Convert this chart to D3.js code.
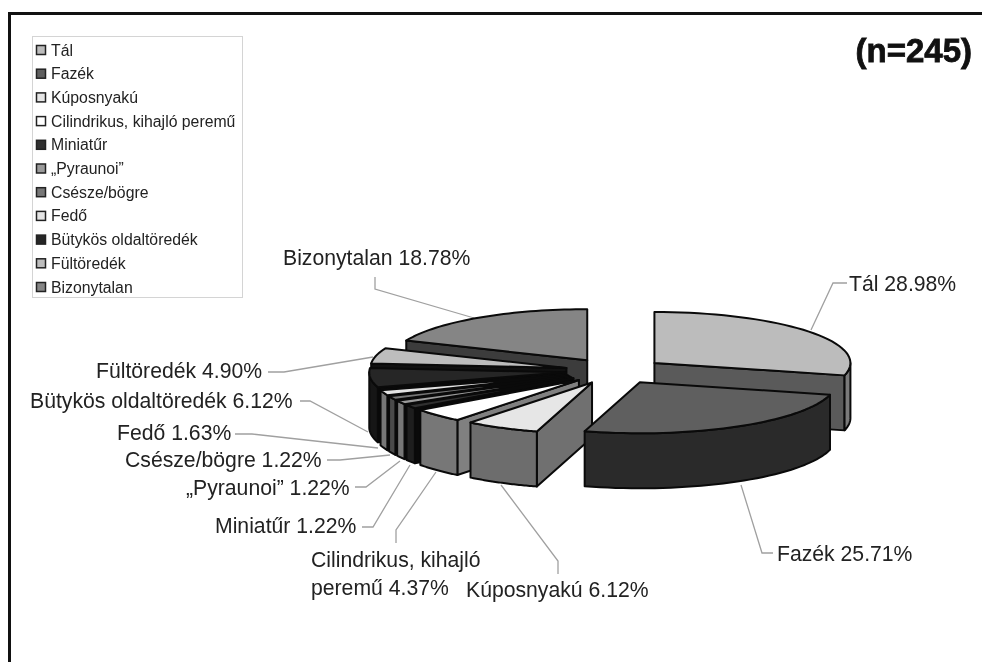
<!DOCTYPE html>
<html>
<head>
<meta charset="utf-8">
<script src="https://cdn.jsdelivr.net/npm/d3@7"></script>
<style>
  html, body { margin: 0; padding: 0; background: #fff; }
  svg { display: block; font-family: "Liberation Sans", Arial, sans-serif; filter: blur(0.5px); }
</style>
</head>
<body>
<svg width="982" height="662"></svg>
<script>
/* Data */
const categories = ['Tál', 'Fazék', 'Kúposnyakú', 'Cilindrikus, kihajló peremű', 'Miniatűr', '„Pyraunoi”',
    'Csésze/bögre', 'Fedő', 'Bütykös oldaltöredék', 'Fültöredék', 'Bizonytalan'];
const percents = [28.98, 25.71, 6.12, 4.37, 1.22, 1.22, 1.22, 1.63, 6.12, 4.90, 18.78];
const sampleLabel = '(n=245)';

/* Greys, slice by slice */
const topGreys = ['#bcbcbc', '#5f5f5f', '#e6e6e6', '#ffffff', '#303030', '#9a9a9a', '#777777', '#e4e4e4', '#262626', '#bdbdbd', '#858585'];
const rimGreys = ['#7a7a7a', '#2a2a2a', '#6d6d6d', '#777777', '#1e1e1e', '#777777', '#4a4a4a', '#777777', '#161616', '#1a1a1a', '#333333'];
const cutGreys = ['#5a5a5a', '#2a2a2a', '#707070', '#808080', '#0a0a0a', '#0a0a0a', '#0a0a0a', '#0a0a0a', '#0a0a0a', '#111111', '#3c3c3c'];

/* Back to front, by index into categories */
const drawOrder = [10, 0, 9, 8, 7, 6, 5, 4, 3, 2, 1];

/* Label placement: text start, leader line */
const labelAt = [[849, 291], [777, 561], [466, 597], [311, 567], [215, 533], [186, 495], [125, 467], [117, 440], [30, 408], [96, 378], [283, 265]];
const leaders = [
    [[847, 283], [833, 283], [811, 330]],
    [[773, 553], [762, 553], [741, 485]],
    [[558, 574], [558, 561], [501, 485]],
    [[396, 543], [396, 530], [436, 472]],
    [[362, 527], [373, 527], [410, 465]],
    [[355, 487], [366, 487], [400, 461]],
    [[327, 460], [340, 460], [390, 455]],
    [[235, 434], [252, 434], [378, 448]],
    [[300, 401], [310, 401], [368, 432]],
    [[268, 372], [284, 372], [373, 357]],
    [[375, 277], [375, 289], [474, 318]]
];

const svg = d3.select('svg');

/* Frame */
svg.append('path')
    .attr('d', 'M9.5,662V13.5H982')
    .attr('fill', 'none')
    .attr('stroke', '#111')
    .attr('stroke-width', 3);

svg.append('text')
    .attr('x', 972)
    .attr('y', 62)
    .attr('text-anchor', 'end')
    .attr('font-size', 33)
    .attr('font-weight', 700)
    .attr('fill', '#111')
    .attr('stroke', '#111')
    .attr('stroke-width', 0.8)
    .text(sampleLabel);

/* Legend */
const legendY = d3.scalePoint().domain(categories).range([50, 287]);
const legendFill = d3.scaleOrdinal(categories, topGreys);

svg.append('rect')
    .attr('x', 32.5)
    .attr('y', 36.5)
    .attr('width', 210)
    .attr('height', 261)
    .attr('fill', '#fff')
    .attr('stroke', '#d4d4d4');

const legend = svg.selectAll('.legend')
    .data(categories)
    .join('g')
    .attr('class', 'legend')
    .attr('transform', d => `translate(36,${legendY(d)})`);

legend.append('rect')
    .attr('x', 0.5)
    .attr('y', -4.5)
    .attr('width', 9)
    .attr('height', 9)
    .attr('fill', d => legendFill(d))
    .attr('stroke', '#222')
    .attr('stroke-width', 1.5);

legend.append('text')
    .attr('x', 15)
    .attr('y', 5.5)
    .attr('font-size', 15.8)
    .attr('fill', '#222')
    .text(d => d);

/* Leader lines go under the pie */
const leaderLine = d3.line();
svg.selectAll('.leader')
    .data(leaders)
    .join('path')
    .attr('class', 'leader')
    .attr('d', leaderLine)
    .attr('fill', 'none')
    .attr('stroke', '#a0a0a0')
    .attr('stroke-width', 1.3);

/* Labels */
const labels = svg.selectAll('.label')
    .data(categories)
    .join('text')
    .attr('class', 'label')
    .attr('x', (d, i) => labelAt[i][0])
    .attr('y', (d, i) => labelAt[i][1])
    .attr('font-size', 21.2)
    .attr('fill', '#222');

labels.each(function (d, i) {
    const value = d3.format('.2f')(percents[i]) + '%';
    const text = d3.select(this);
    if (d.startsWith('Cilindrikus')) {
        text.append('tspan').text('Cilindrikus, kihajló');
        text.append('tspan').attr('x', labelAt[i][0]).attr('dy', 28).text('peremű ' + value);
    } else {
        text.text(d + ' ' + value);
    }
});

/* Exploded 3D pie */
const cx = 615, cy = 371, rx = 196, ry = 51, depth = 55, explode = 50;

const pie = d3.pie().sort(null).value(d => d);
const slices = pie(percents).map((s, i) => {
    const mid = (s.startAngle + s.endAngle) / 2;
    return {
        ...s,
        mid,
        i,
        ax: cx + explode * Math.sin(mid),
        ay: cy - explode * Math.cos(mid) * ry / rx
    };
});

const rimPoint = (s, a, drop = 0) => [s.ax + rx * Math.sin(a), s.ay - ry * Math.cos(a) + drop];
const arcAngles = (a0, a1) => d3.range(0, 41).map(k => a0 + (a1 - a0) * k / 40);
const shape = d3.line().curve(d3.curveLinear);

const faceStyle = sel => sel
    .attr('stroke', '#0a0a0a')
    .attr('stroke-width', 2)
    .attr('stroke-linejoin', 'round');

drawOrder.map(i => slices[i]).forEach(s => {
    const g = svg.append('g');
    const apex = [s.ax, s.ay];
    const apexLow = [s.ax, s.ay + depth];

    // cut faces the viewer can see
    const cuts = [];
    if (Math.sin(s.startAngle) < 0) cuts.push(s.startAngle);
    if (Math.sin(s.endAngle) > 0) cuts.push(s.endAngle);
    cuts.forEach(a => {
        g.append('path')
            .attr('d', shape([apex, rimPoint(s, a), rimPoint(s, a, depth), apexLow]) + 'Z')
            .attr('fill', cutGreys[s.i])
            .call(faceStyle);
    });

    // outer wall, front half of the ellipse only
    const from = Math.max(s.startAngle, Math.PI / 2);
    const to = Math.min(s.endAngle, Math.PI * 1.5);
    if (from < to) {
        const angles = arcAngles(from, to);
        const wall = angles.map(a => rimPoint(s, a))
            .concat(angles.slice().reverse().map(a => rimPoint(s, a, depth)));
        g.append('path')
            .attr('d', shape(wall) + 'Z')
            .attr('fill', rimGreys[s.i])
            .call(faceStyle);
    }

    // top
    const top = [apex].concat(arcAngles(s.startAngle, s.endAngle).map(a => rimPoint(s, a)));
    g.append('path')
        .attr('d', shape(top) + 'Z')
        .attr('fill', topGreys[s.i])
        .call(faceStyle);
});
</script>
</body>
</html>
